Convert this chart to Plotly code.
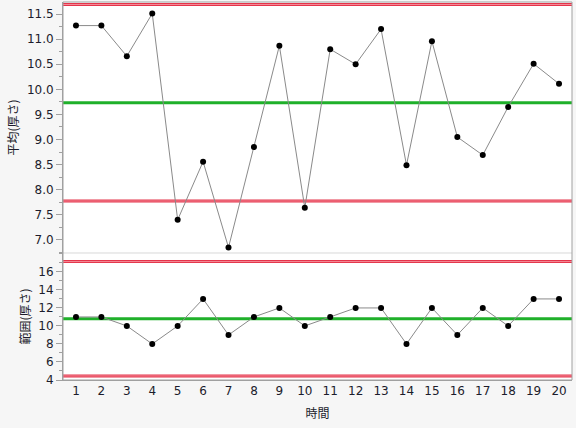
import plotly.graph_objects as go

# ---- data ----
subgroups = list(range(1, 21))
means = [11.27, 11.27, 10.66, 11.51, 7.40, 8.56, 6.85, 8.85, 10.87, 7.64,
         10.80, 10.50, 11.20, 8.49, 10.96, 9.05, 8.69, 9.65, 10.51, 10.11]
ranges = [11, 11, 10, 8, 10, 13, 9, 11, 12, 10, 11, 12, 12, 8, 12, 9, 12, 10, 13, 13]
mean_limits = {"UCL": 11.69, "CL": 9.735, "LCL": 7.776}
range_limits = {"UCL": 17.15, "CL": 10.8, "LCL": 4.45}
mean_ticks = [7.0, 7.5, 8.0, 8.5, 9.0, 9.5, 10.0, 10.5, 11.0, 11.5]
range_ticks = [4, 6, 8, 10, 12, 14, 16]
x_title = "時間"
y_title_mean = "平均(厚さ)"
y_title_range = "範囲(厚さ)"

RED = "#e4344a"
PINK = "#f48a98"
GREEN = "#1fb02a"
AX = "#a0a0a0"
TXT = "#1c1c2c"
FONT = "DejaVu Sans"
JFONT = "Noto Sans CJK JP"

fig = go.Figure()
fig.add_trace(go.Scatter(x=subgroups, y=means, mode="lines+markers",
                         line=dict(color="#8a8a8a", width=1),
                         marker=dict(color="black", size=6),
                         xaxis="x2", yaxis="y2", showlegend=False, hoverinfo="skip"))
fig.add_trace(go.Scatter(x=subgroups, y=ranges, mode="lines+markers",
                         line=dict(color="#8a8a8a", width=1),
                         marker=dict(color="black", size=6),
                         xaxis="x", yaxis="y", showlegend=False, hoverinfo="skip"))

shapes = []
def limit_lines(limits, xr, yr):
    for k, v in limits.items():
        if k == "CL":
            shapes.append(dict(type="line", xref=xr, yref=yr, x0=0, x1=1, y0=v, y1=v,
                               line=dict(color=GREEN, width=3), layer="below"))
        else:
            shapes.append(dict(type="line", xref=xr, yref=yr, x0=0, x1=1, y0=v, y1=v,
                               line=dict(color=RED, width=3), layer="below"))
            shapes.append(dict(type="line", xref=xr, yref=yr, x0=0, x1=1, y0=v, y1=v,
                               line=dict(color=PINK, width=1), layer="below"))

limit_lines(mean_limits, "x2 domain", "y2")
limit_lines(range_limits, "x domain", "y")
# frame and separator
shapes.append(dict(type="line", xref="paper", yref="paper", x0=0, x1=1, y0=0.336, y1=0.336,
                   line=dict(color="#d8d8d8", width=1)))
shapes.append(dict(type="rect", xref="paper", yref="paper", x0=0, x1=1, y0=0, y1=1,
                   line=dict(color=AX, width=1)))

tickfont = dict(family=FONT, size=12, color=TXT)
fig.update_layout(
    width=576, height=428,
    margin=dict(l=63, r=4, t=2, b=48),
    paper_bgcolor="#f6f6f6", plot_bgcolor="white",
    shapes=shapes,
    hovermode=False,
    xaxis=dict(domain=[0, 1], anchor="y", range=[0.49, 20.51], tickmode="array",
               tickvals=subgroups, ticktext=[str(s) for s in subgroups], tickfont=tickfont,
               showgrid=False, zeroline=False, showline=True, linecolor=AX, ticks="",
               title=dict(text=x_title, font=dict(family=JFONT, size=12, color=TXT), standoff=12)),
    xaxis2=dict(domain=[0, 1], anchor="y2", matches="x", range=[0.49, 20.51],
                showticklabels=False, showgrid=False, zeroline=False, ticks=""),
    yaxis=dict(domain=[0, 0.336], anchor="x", range=[4, 18.1], tickmode="array",
               tickvals=range_ticks, ticktext=[str(t) for t in range_ticks],
               tickfont=tickfont, showgrid=False, zeroline=False, showline=True, linecolor=AX,
               ticks="outside", ticklen=6, tickcolor=AX,
               minor=dict(tickmode="linear", tick0=4, dtick=1, ticks="outside", ticklen=3,
                          tickcolor=AX, showgrid=False),
               title=dict(text=y_title_range, font=dict(family=JFONT, size=12, color=TXT), standoff=5)),
    yaxis2=dict(domain=[0.336, 1], anchor="x2", range=[6.74, 11.74], tickmode="array",
                tickvals=mean_ticks, ticktext=[f"{t:.1f}" for t in mean_ticks],
                tickfont=tickfont, showgrid=False, zeroline=False, showline=True, linecolor=AX,
                ticks="outside", ticklen=6, tickcolor=AX,
                minor=dict(tickmode="linear", tick0=7, dtick=0.25, ticks="outside", ticklen=3,
                           tickcolor=AX, showgrid=False),
                title=dict(text=y_title_mean, font=dict(family=JFONT, size=12, color=TXT), standoff=5)),
)

fig.write_html("out.html", config={"displayModeBar": False, "staticPlot": True},
               post_script="document.body.style.margin='0';document.body.style.overflow='hidden';")
